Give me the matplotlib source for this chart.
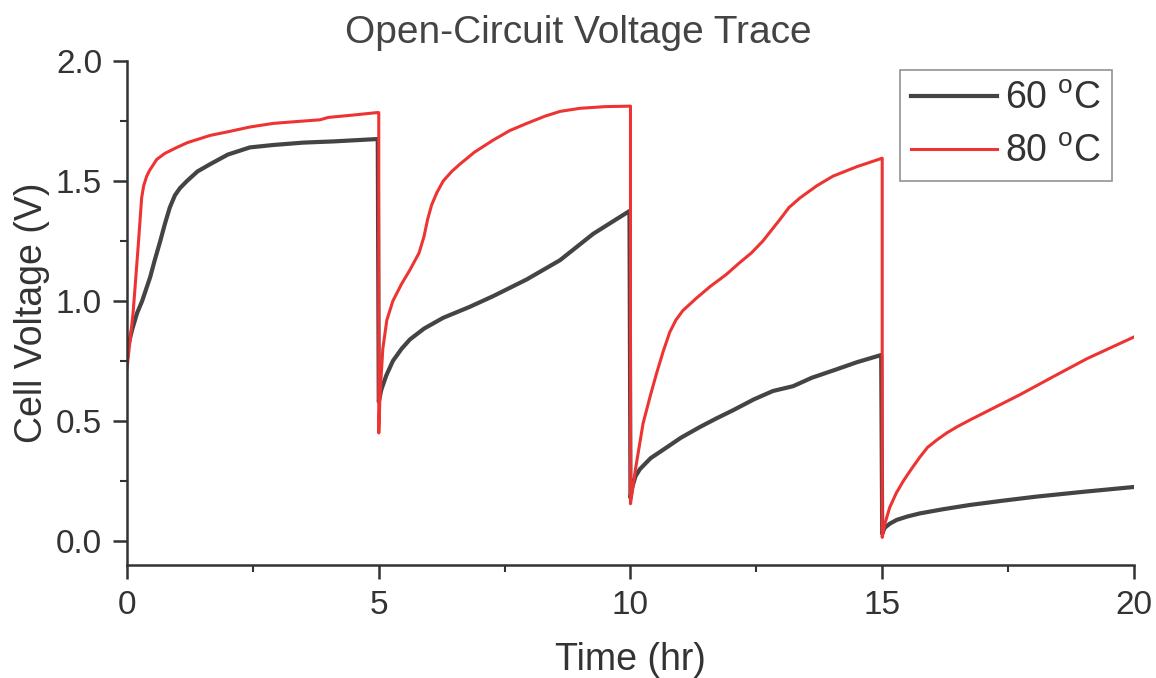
import matplotlib
matplotlib.use('Agg')
import matplotlib.pyplot as plt
from matplotlib.ticker import MultipleLocator

# 60 oC trace (time in hr, voltage in V)
t60 = [0.0, 0.02, 0.1, 0.2, 0.3, 0.46, 0.55, 0.66, 0.75, 0.85, 0.95, 1.05, 1.19, 1.4, 1.65, 2.0, 2.44, 2.9, 3.5, 4.1, 4.98,
       5.0, 5.05, 5.15, 5.28, 5.45, 5.62, 5.9, 6.28, 6.8, 7.27, 7.94, 8.6, 9.26, 9.98,
       10.0, 10.03, 10.1, 10.19, 10.4, 10.72, 11.0, 11.38, 11.7, 12.04, 12.45, 12.83, 13.23, 13.6, 14.02, 14.5, 14.98,
       15.0, 15.05, 15.15, 15.29, 15.5, 15.75, 16.2, 16.74, 17.4, 18.07, 19.0, 20.0]
v60 = [0.76, 0.81, 0.88, 0.95, 1.0, 1.1, 1.17, 1.25, 1.32, 1.39, 1.44, 1.47, 1.5, 1.54, 1.57, 1.61, 1.64, 1.65, 1.66, 1.665, 1.675,
       0.58, 0.63, 0.69, 0.75, 0.8, 0.84, 0.885, 0.93, 0.975, 1.02, 1.09, 1.17, 1.28, 1.375,
       0.18, 0.22, 0.27, 0.3, 0.345, 0.39, 0.43, 0.475, 0.51, 0.545, 0.59, 0.625, 0.645, 0.68, 0.71, 0.745, 0.775,
       0.03, 0.055, 0.072, 0.088, 0.102, 0.115, 0.132, 0.15, 0.168, 0.185, 0.205, 0.225]

# 80 oC trace
t80 = [0.0, 0.02, 0.12, 0.22, 0.29, 0.33, 0.39, 0.45, 0.59, 0.75, 0.99, 1.2, 1.65, 2.0, 2.44, 2.9, 3.2, 3.83, 4.0, 4.5, 4.96, 5.0,
       5.0, 5.02, 5.04, 5.08, 5.16, 5.28, 5.45, 5.62, 5.8, 5.9, 5.97, 6.05, 6.15, 6.28, 6.45, 6.61, 6.9, 7.27, 7.6, 7.94,
       8.3, 8.6, 9.0, 9.5, 10.0,
       10.0, 10.1, 10.25, 10.4, 10.52, 10.65, 10.78, 10.9, 11.04, 11.3, 11.58, 11.9, 12.17, 12.4, 12.63, 12.8, 12.97,
       13.15, 13.37, 13.7, 14.02, 14.5, 15.0,
       15.0, 15.05, 15.15, 15.28, 15.42, 15.58, 15.75, 15.9, 16.08, 16.28, 16.48, 16.75, 17.08, 17.74, 18.4, 19.07, 20.0]
v80 = [0.72, 0.76, 0.95, 1.225, 1.43, 1.48, 1.52, 1.545, 1.59, 1.615, 1.64, 1.66, 1.69, 1.705, 1.725, 1.74, 1.745, 1.755, 1.765, 1.775, 1.785, 1.785,
       0.45, 0.58, 0.66, 0.8, 0.92, 1.0, 1.07, 1.13, 1.2, 1.27, 1.34, 1.4, 1.45, 1.5, 1.54, 1.57, 1.62, 1.67, 1.71, 1.74,
       1.77, 1.79, 1.803, 1.81, 1.812,
       0.155, 0.3, 0.49, 0.61, 0.7, 0.79, 0.87, 0.92, 0.96, 1.01, 1.06, 1.11, 1.16, 1.2, 1.25, 1.295, 1.34,
       1.39, 1.43, 1.48, 1.52, 1.56, 1.595,
       0.015, 0.07, 0.14, 0.2, 0.25, 0.3, 0.35, 0.39, 0.42, 0.45, 0.475, 0.505, 0.54, 0.61, 0.685, 0.76, 0.85]

labels = ['60 $\\mathregular{^{o}}$C', '80 $\\mathregular{^{o}}$C']

plt.rcParams['font.family'] = ['Liberation Sans', 'DejaVu Sans']
plt.rcParams['mathtext.fontset'] = 'custom'
plt.rcParams['mathtext.rm'] = 'Liberation Sans'
txt = '#333333'

fig = plt.figure(figsize=(11.56, 6.78), dpi=100)
ax = fig.add_axes([0.1099, 0.1667, 0.871, 0.7433])

ax.plot(t60, v60, color='#444444', lw=3.0, label=labels[0], solid_joinstyle='round')
ax.plot(t80, v80, color='#ee3333', lw=2.2, label=labels[1], solid_joinstyle='round')

ax.set_xlim(0, 20)
ax.set_ylim(-0.1, 2.0)
ax.xaxis.set_major_locator(MultipleLocator(5))
ax.xaxis.set_minor_locator(MultipleLocator(2.5))
ax.yaxis.set_minor_locator(MultipleLocator(0.25))
ax.set_yticks([0.0, 0.5, 1.0, 1.5, 2.0])
ax.set_yticklabels(['0.0', '0.5', '1.0', '1.5', '2.0'])

for s in ['top', 'right']:
    ax.spines[s].set_visible(False)
for s in ['left', 'bottom']:
    ax.spines[s].set_color(txt)
    ax.spines[s].set_linewidth(1.8)

ax.tick_params(which='major', direction='out', length=10, width=1.8, color=txt,
               labelsize=24, labelcolor=txt, pad=8)
ax.tick_params(which='minor', direction='out', length=5, width=1.5, color=txt)

ax.set_xlabel('Time (hr)', fontsize=27, color=txt, labelpad=15)
ax.set_ylabel('Cell Voltage (V)', fontsize=27, color=txt, labelpad=4)

fig.text(0.5, 0.951, 'Open-Circuit Voltage Trace', ha='center', va='center',
         fontsize=28, color='#444444')

leg = ax.legend(loc='upper right', bbox_to_anchor=(0.978, 0.983), fontsize=27,
                frameon=True, fancybox=False, handlelength=2.3,
                handletextpad=0.2, borderpad=0.3, labelspacing=0.45,
                borderaxespad=0.0)
leg.get_frame().set_edgecolor('#777777')
leg.get_frame().set_linewidth(1.2)
for t in leg.get_texts():
    t.set_color(txt)

fig.savefig('out.png', dpi=100)
